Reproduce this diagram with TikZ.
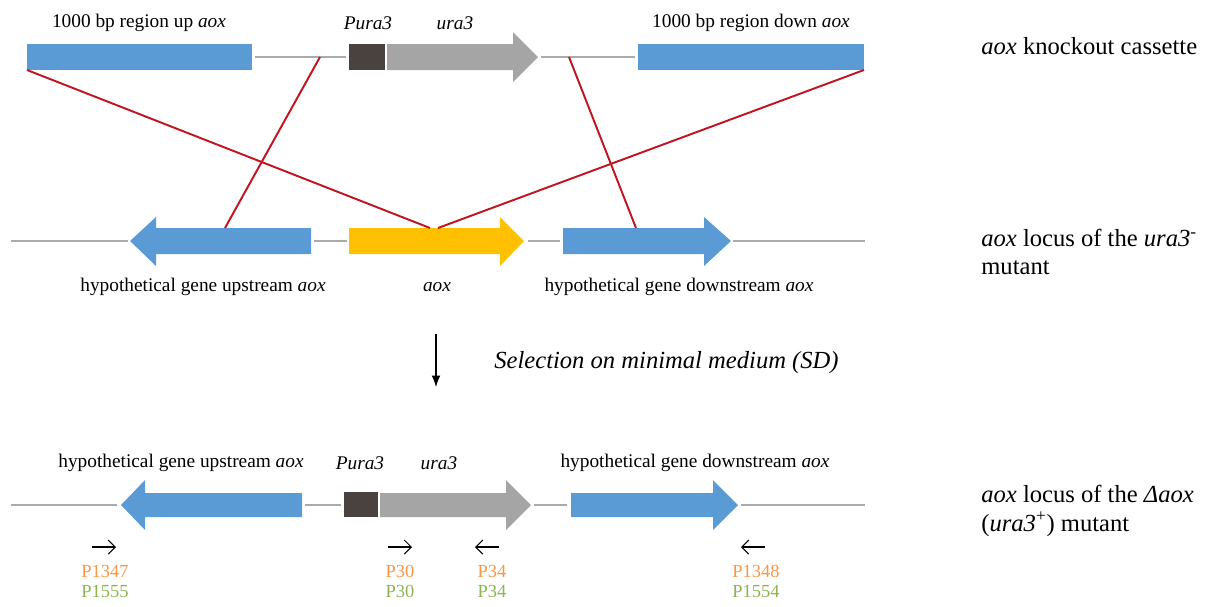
\documentclass[tikz,border=0pt]{standalone}
\usepackage{fontspec}
\setmainfont{Liberation Serif}
\usetikzlibrary{arrows.meta}
\definecolor{geneblue}{RGB}{91,155,213}
\definecolor{geneyellow}{RGB}{255,192,0}
\definecolor{genegray}{RGB}{165,165,165}
\definecolor{promdark}{RGB}{73,66,63}
\definecolor{linegray}{RGB}{170,170,170}
\definecolor{crossred}{RGB}{192,20,30}
\definecolor{primorange}{RGB}{247,150,70}
\definecolor{primgreen}{RGB}{140,180,80}
\begin{document}
\begin{tikzpicture}[x=0.02cm,y=-0.02cm,
  backbone/.style={draw=linegray,line width=1.3pt},
  crossover/.style={draw=crossred,line width=1.1pt},
  genelabel/.style={font=\fontsize{11}{13}\selectfont,inner sep=0pt},
  sidelabel/.style={font=\fontsize{14}{16}\selectfont,inner sep=0pt,anchor=west,align=left},
  primer/.style={draw=black,line width=0.6pt,-{Straight Barb[length=4pt,width=8pt]}},
  primname/.style={font=\fontsize{10.5}{12}\selectfont,inner sep=0pt}]
\useasboundingbox (0,0) rectangle (1211,606);
% knockout cassette
\draw [backbone] (255,57) -- (346,57);
\draw [backbone] (541,57) -- (635,57);
\fill [geneblue] (27,44) rectangle (252,70);
\fill [promdark] (349,44) rectangle (385,70);
\fill [genegray] (387,44) -- (513,44) -- (513,32) -- (538,57) -- (513,82) -- (513,70) -- (387,70) -- cycle;
\fill [geneblue] (638,44) rectangle (864,70);
\node [genelabel] (uplab) at (139,23) {1000 bp region up \textit{aox}};
\node [genelabel] (puralab) at (368,23) {\textit{Pura3}};
\node [genelabel] (uralab) at (455,23) {\textit{ura3}};
\node [genelabel] (downlab) at (751,23) {1000 bp region down \textit{aox}};
\node [sidelabel] (cassette) at (981,46) {\textit{aox} knockout cassette};
% locus of the ura3- mutant
\draw [backbone] (11,241) -- (128,241);
\draw [backbone] (314,241) -- (347,241);
\draw [backbone] (528,241) -- (560,241);
\draw [backbone] (733,241) -- (865,241);
\fill [geneblue] (311,228) -- (156,228) -- (156,217) -- (130,241) -- (156,266) -- (156,254) -- (311,254) -- cycle;
\fill [geneyellow] (349,228) -- (500,228) -- (500,217) -- (524,241) -- (500,266) -- (500,254) -- (349,254) -- cycle;
\fill [geneblue] (563,228) -- (704,228) -- (704,217) -- (731,241) -- (704,266) -- (704,254) -- (563,254) -- cycle;
\node [genelabel] (hupmid) at (203,287) {hypothetical gene upstream \textit{aox}};
\node [genelabel] (aoxlab) at (437,287) {\textit{aox}};
\node [genelabel] (hdownmid) at (679,287) {hypothetical gene downstream \textit{aox}};
\node [sidelabel] (ura3mut) at (981,252) {\textit{aox} locus of the \textit{ura3}\textsuperscript{-}\\mutant};
% crossovers
\coordinate (upcorner) at (27,70);
\coordinate (upline) at (320,57);
\coordinate (downcorner) at (864,70);
\coordinate (downline) at (569,57);
\coordinate (aoxleft) at (430,228);
\coordinate (aoxright) at (438,228);
\coordinate (hupcross) at (225,228);
\coordinate (hdowncross) at (636,228);
\draw [crossover] (upcorner) -- (aoxleft);
\draw [crossover] (downcorner) -- (aoxright);
\draw [crossover] (upline) -- (hupcross);
\draw [crossover] (downline) -- (hdowncross);
% selection
\coordinate (selfrom) at (436,334);
\coordinate (selto) at (436,387);
\draw [line width=0.6pt,-{Latex[length=6.5pt,width=5pt]}] (selfrom) -- (selto);
\node [font=\fontsize{14}{16}\selectfont\itshape,inner sep=0pt,anchor=west] (selection) at (494,363) {Selection on minimal medium (SD)};
% locus of the delta aox mutant
\draw [backbone] (11,505) -- (117,505);
\draw [backbone] (305,505) -- (341,505);
\draw [backbone] (534,505) -- (567,505);
\draw [backbone] (741,505) -- (865,505);
\fill [geneblue] (302,493) -- (145,493) -- (145,480) -- (121,505) -- (145,530) -- (145,517) -- (302,517) -- cycle;
\fill [promdark] (344,492) rectangle (378,517);
\fill [genegray] (380,493) -- (506,493) -- (506,480) -- (531,505) -- (506,530) -- (506,517) -- (380,517) -- cycle;
\fill [geneblue] (571,493) -- (713,493) -- (713,480) -- (738,505) -- (713,530) -- (713,517) -- (571,517) -- cycle;
\node [genelabel] (hupbot) at (181,463) {hypothetical gene upstream \textit{aox}};
\node [genelabel] (purabot) at (360,463) {\textit{Pura3}};
\node [genelabel] (urabot) at (439,463) {\textit{ura3}};
\node [genelabel] (hdownbot) at (695,463) {hypothetical gene downstream \textit{aox}};
\node [sidelabel] (deltamut) at (981,511) {\textit{aox} locus of the \textit{Δaox}\\(\textit{ura3}\textsuperscript{+}) mutant};
% primers
\coordinate (pa1) at (92,547); \coordinate (pa2) at (116,547);
\coordinate (pb1) at (388,547); \coordinate (pb2) at (412,547);
\coordinate (pc1) at (499,547); \coordinate (pc2) at (475,547);
\coordinate (pd1) at (765,547); \coordinate (pd2) at (741,547);
\draw [primer] (pa1) -- (pa2);
\draw [primer] (pb1) -- (pb2);
\draw [primer] (pc1) -- (pc2);
\draw [primer] (pd1) -- (pd2);
\node [primname,text=primorange] (p1347) at (105,571) {P1347};
\node [primname,text=primgreen] (p1555) at (105,591) {P1555};
\node [primname,text=primorange] (p30a) at (400,571) {P30};
\node [primname,text=primgreen] (p30b) at (400,591) {P30};
\node [primname,text=primorange] (p34a) at (492,571) {P34};
\node [primname,text=primgreen] (p34b) at (492,591) {P34};
\node [primname,text=primorange] (p1348) at (756,571) {P1348};
\node [primname,text=primgreen] (p1554) at (756,591) {P1554};
\end{tikzpicture}
\end{document}
